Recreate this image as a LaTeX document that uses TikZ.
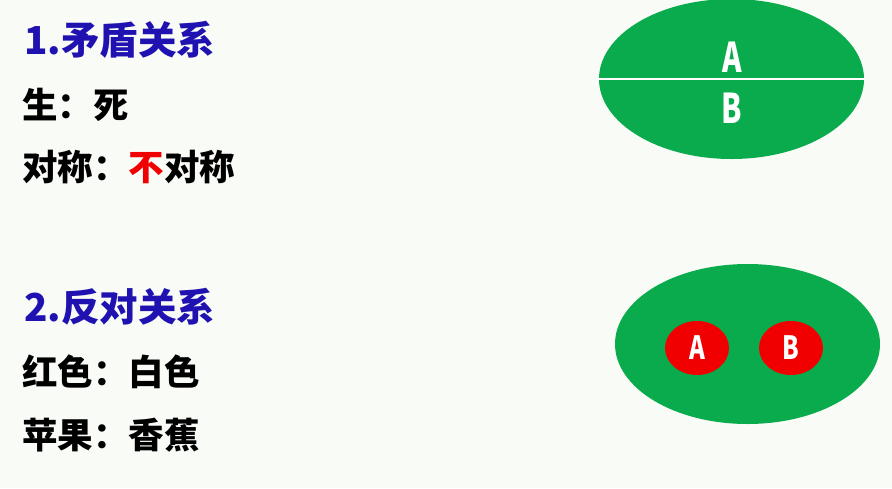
\documentclass[tikz,border=0pt]{standalone}
\usepackage{fontspec}
\usepackage{graphicx}
\usetikzlibrary{shapes.geometric}
\newfontfamily\cjk{Noto Sans CJK SC}
\definecolor{bgc}{HTML}{F9FBF7}
\definecolor{grn}{HTML}{0AAB4C}
\definecolor{redc}{HTML}{F00000}
\definecolor{ttl}{HTML}{1F12B0}
\tikzset{
  title/.style={anchor=west, inner sep=0, text=ttl, font=\cjk\bfseries\fontsize{38.5}{40}\selectfont},
  body/.style={anchor=west, inner sep=0, text=black, font=\cjk\bfseries\fontsize{35.5}{37}\selectfont},
  bigell/.style={ellipse, fill=grn, minimum width=265, minimum height=160, inner sep=0},
  redell/.style={ellipse, fill=redc, minimum width=64, minimum height=54, inner sep=0},
  bigletter/.style={inner sep=0, text=white, font=\cjk\bfseries\fontsize{41}{43}\selectfont},
  smallletter/.style={inner sep=0, text=white, font=\cjk\bfseries\fontsize{32}{34}\selectfont}
}
\begin{document}
\begin{tikzpicture}[x=1pt,y=-1pt]
\useasboundingbox[fill=bgc] (0,0) rectangle (892,488);
% block 1
\node[title] (t1) at (24,40) {1.矛盾关系};
\node[body] (l1) at (22,105) {生：死};
\node[body] (l2) at (22,167) {对称：{\color{redc}不}对称};
\node[bigell] (e1) at (731.5,79) {};
\draw[white, line width=1.6] (e1.west) -- (e1.east);
\node[bigletter] (a1) at (732,57) {\scalebox{0.72}[1]{A}};
\node[bigletter] (b1) at (732,108) {\scalebox{0.72}[1]{B}};
% block 2
\node[title] (t2) at (24,307) {2.反对关系};
\node[body] (l3) at (22,372) {红色：白色};
\node[body] (l4) at (22,435) {苹果：香蕉};
\node[bigell] (e2) at (747.5,344) {};
\node[redell] (ra) at (697,348) {};
\node[redell] (rb) at (791,348) {};
\node[smallletter] at (ra) {\scalebox{0.75}[1]{A}};
\node[smallletter] at (rb) {\scalebox{0.75}[1]{B}};
\end{tikzpicture}
\end{document}
